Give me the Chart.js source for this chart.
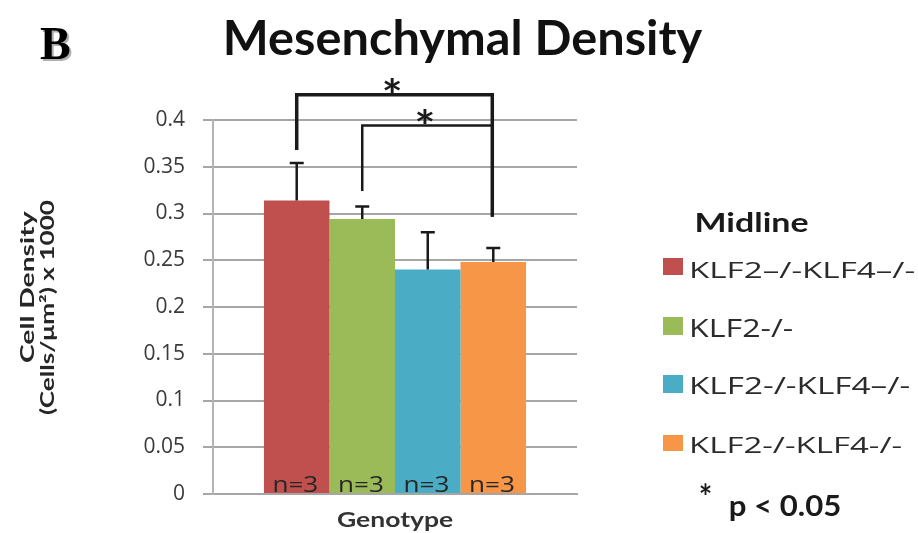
<!DOCTYPE html>
<html>
<head>
<meta charset="utf-8">
<script src="https://cdn.jsdelivr.net/npm/chart.js@4.4.1/dist/chart.umd.min.js"></script>
<style>
  html, body { margin: 0; padding: 0; background: #ffffff; }
  #wrap { width: 918px; height: 533px; position: relative; }
</style>
</head>
<body>
<div id="wrap"><canvas id="c" width="918" height="533"></canvas></div>
<script>
// ---- data ----
const categories = ['Genotype'];
const seriesLabels = ['KLF2\u2013/-KLF4\u2013/-', 'KLF2-/-', 'KLF2-/-KLF4\u2013/-', 'KLF2-/-KLF4-/-'];
const meanValues = [0.314, 0.294, 0.240, 0.248];
const errorValues = [0.040, 0.0135, 0.040, 0.015];
const sampleLabels = ['n=3', 'n=3', 'n=3', 'n=3'];
const seriesColors = ['#C0504D', '#9BBB59', '#4BACC6', '#F79646'];
const yTickLabels = ['0', '0.05', '0.1', '0.15', '0.2', '0.25', '0.3', '0.35', '0.4'];
// significance brackets: from series, to series, bar level, left leg end, right leg end (value units)
const bracketFrom = [0, 1];
const bracketTo = [3, 3];
const bracketLevel = [0.427, 0.394];
const bracketLeftEnd = [0.368, 0.324];
const bracketRightEnd = [0.2965, 0.2965];
const bracketMark = ['*', '*'];

const chartTitle = 'Mesenchymal Density';
const panelLetter = 'B';
const yTitleLines = ['Cell Density', '(Cells/\u03bcm\u00b2) x 1000'];
const xTitle = 'Genotype';
const legendTitle = 'Midline';
const sigNote = 'p < 0.05';

// draw text so its ink box fills a given box (centre, width, height, rotation)
function drawBox(ctx, text, font, color, cx, cy, w, h, rot) {
  ctx.save();
  ctx.font = font;
  ctx.fillStyle = color;
  ctx.textAlign = 'left';
  ctx.textBaseline = 'alphabetic';
  const m = ctx.measureText(text);
  const bw = m.actualBoundingBoxLeft + m.actualBoundingBoxRight;
  const bh = m.actualBoundingBoxAscent + m.actualBoundingBoxDescent;
  ctx.translate(cx, cy);
  if (rot) ctx.rotate(rot);
  ctx.scale(w / bw, h / bh);
  const x = (m.actualBoundingBoxLeft - m.actualBoundingBoxRight) / 2;
  const y = (m.actualBoundingBoxAscent - m.actualBoundingBoxDescent) / 2;
  ctx.fillText(text, x, y);
  ctx.restore();
}
function drawRect(ctx, text, font, color, l, t, r, b) {
  drawBox(ctx, text, font, color, (l + r) / 2, (t + b) / 2, r - l, b - t, 0);
}

const overlay = {
  id: 'overlay',
  afterDatasetsDraw(chart) {
    const ctx = chart.ctx;
    const y = chart.scales.y;
    const centers = meanValues.map((v, i) => chart.getDatasetMeta(i).data[0].x);
    // error bars (upper half)
    ctx.save();
    ctx.strokeStyle = '#1a1a1a';
    ctx.lineWidth = 2.5;
    meanValues.forEach((v, i) => {
      const x = centers[i];
      const y0 = y.getPixelForValue(v);
      const y1 = y.getPixelForValue(v + errorValues[i]);
      ctx.beginPath();
      ctx.moveTo(x, y0); ctx.lineTo(x, y1);
      ctx.moveTo(x - 7, y1); ctx.lineTo(x + 7, y1);
      ctx.stroke();
    });
    ctx.restore();
    // n labels
    sampleLabels.forEach((t, i) => {
      drawRect(ctx, t, '20px "Open Sans"', '#262626', centers[i] - 23, 477, centers[i] + 21, 492);
    });
    // significance brackets
    ctx.save();
    ctx.strokeStyle = '#1a1a1a';
    bracketLevel.forEach((lv, k) => {
      const xa = centers[bracketFrom[k]], xb = centers[bracketTo[k]] - 1;
      const yl = y.getPixelForValue(lv);
      ctx.lineWidth = k === 0 ? 3.5 : 2.5;
      ctx.beginPath();
      ctx.moveTo(xa, y.getPixelForValue(bracketLeftEnd[k]));
      ctx.lineTo(xa, yl);
      ctx.lineTo(xb, yl);
      ctx.lineTo(xb, y.getPixelForValue(bracketRightEnd[k]));
      ctx.stroke();
      const mx = (xa + xb) / 2 - 2;
      drawBox(ctx, bracketMark[k], 'bold 30px Lato', '#1a1a1a', mx, yl - 9, 18, 16, 0);
    });
    ctx.restore();
  },
  afterDraw(chart) {
    const ctx = chart.ctx;
    // panel letter with slight shadow
    drawRect(ctx, panelLetter, 'bold 46px "Liberation Serif"', '#b0b0b0', 42, 29, 72, 61);
    drawRect(ctx, panelLetter, 'bold 46px "Liberation Serif"', '#000000', 40, 27, 70, 59);
    // title
    drawRect(ctx, chartTitle, 'bold 46px Lato', '#111111', 226, 19, 703, 63);
    // axis titles
    drawBox(ctx, yTitleLines[0], 'bold 19px Lato', '#262626', 28.5, 286.5, 153, 17, -Math.PI / 2);
    drawBox(ctx, yTitleLines[1], 'bold 19px Lato', '#262626', 47.8, 307.5, 215, 19, -Math.PI / 2);
    drawRect(ctx, xTitle, 'bold 19px Lato', '#333333', 337, 512, 453, 530);
    // legend
    drawRect(ctx, legendTitle, 'bold 27px Lato', '#1a1a1a', 697, 212, 808, 232);
    const sq = [[258, 275], [317, 335], [375, 393], [435, 451]];
    const tx = [[262, 278, 915], [318, 337, 793], [377, 394, 910], [437, 453, 902]];
    seriesLabels.forEach((lab, i) => {
      ctx.fillStyle = seriesColors[i];
      ctx.fillRect(663, sq[i][0], 20, sq[i][1] - sq[i][0]);
      drawRect(ctx, lab, '22px "Open Sans"', '#2b2b2b', 692, tx[i][0], tx[i][2], tx[i][1]);
    });
    drawRect(ctx, '*', 'bold 26px Lato', '#1a1a1a', 700, 483, 711, 496);
    drawRect(ctx, sigNote, 'bold 26px Lato', '#1a1a1a', 730, 495, 840, 520);
  }
};

new Chart(document.getElementById('c'), {
  type: 'bar',
  data: {
    labels: categories,
    datasets: seriesLabels.map((lab, i) => ({
      label: lab,
      data: [meanValues[i]],
      backgroundColor: seriesColors[i],
      borderWidth: 0
    }))
  },
  options: {
    responsive: false,
    animation: false,
    devicePixelRatio: 1,
    layout: { padding: { left: 0, top: 120, right: 341, bottom: 39 } },
    plugins: { legend: { display: false }, title: { display: false }, tooltip: { enabled: false } },
    datasets: { bar: { categoryPercentage: 0.72, barPercentage: 1.0 } },
    scales: {
      x: {
        grid: { display: false },
        border: { display: true, color: '#a6a6a6', width: 2 },
        ticks: { display: false },
        afterFit(s) { s.height = 0; }
      },
      y: {
        min: 0, max: 0.4,
        ticks: {
          stepSize: 0.05,
          padding: 18,
          color: '#3a3a3a',
          font: { family: '"Open Sans"', size: 21 },
          callback: (v, i) => yTickLabels[i]
        },
        grid: { color: '#a6a6a6', lineWidth: 2, tickLength: 10, drawTicks: true },
        border: { display: true, color: '#b4b4b4', width: 2 },
        afterFit(s) { s.width = 213; }
      }
    }
  },
  plugins: [overlay]
});
</script>
</body>
</html>
